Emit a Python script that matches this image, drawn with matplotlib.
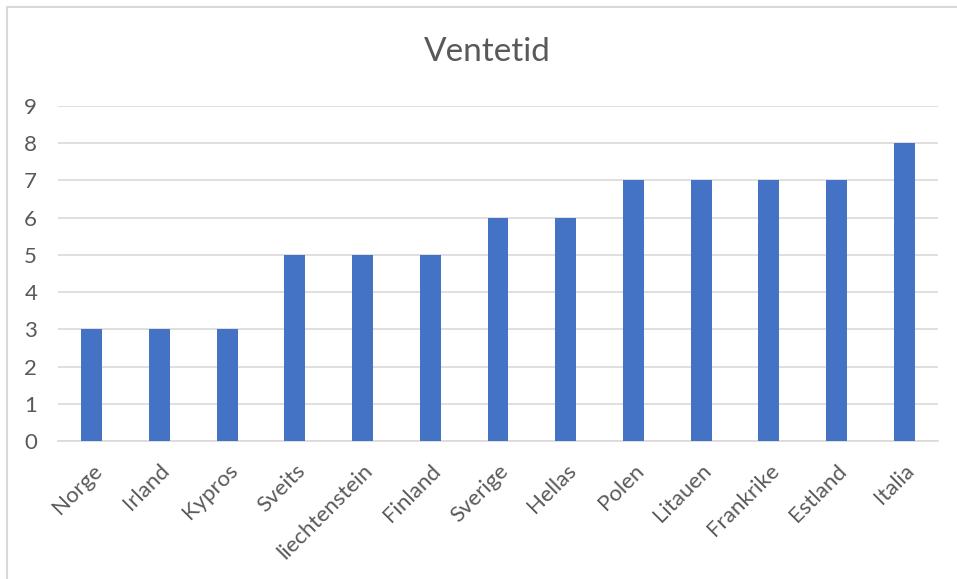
import matplotlib.pyplot as plt
from matplotlib.patches import Rectangle

countries = ['Norge', 'Irland', 'Kypros', 'Sveits', 'liechtenstein', 'Finland',
             'Sverige', 'Hellas', 'Polen', 'Litauen', 'Frankrike', 'Estland', 'Italia']
ventetid = [3, 3, 3, 5, 5, 5, 6, 6, 7, 7, 7, 7, 8]
y_ticks = list(range(0, 10))


def main():
    plt.rcParams['font.family'] = ['Lato', 'DejaVu Sans']
    fig = plt.figure(figsize=(9.57, 5.79), dpi=100)
    W, H = 957, 579

    # chart border (only top/left visible in the reference)
    fig.patches.append(Rectangle((7 / W, -0.1), 1.2, (H - 7) / H + 0.1,
                                 transform=fig.transFigure, fill=False,
                                 edgecolor='#d9d9d9', linewidth=1.5))

    ax = fig.add_axes([58 / W, 1 - 441 / H, (938 - 58) / W, (441 - 106) / H])
    x = range(len(countries))
    ax.bar(x, ventetid, width=0.31, color='#4472c4', zorder=3)

    ax.set_xlim(-0.5, len(countries) - 0.5)
    ax.set_ylim(0, 9)
    ax.set_yticks(y_ticks)
    ax.set_xticks(list(x))
    ax.set_xticklabels(countries, rotation=45, ha='right', rotation_mode='anchor')
    ax.tick_params(axis='both', length=0, labelsize=16, colors='#595959')
    ax.tick_params(axis='x', pad=14)
    ax.tick_params(axis='y', pad=15)
    for lbl in ax.get_xticklabels():
        lbl.set_x(lbl.get_position()[0])

    ax.grid(axis='y', color='#d9d9d9', linewidth=1.2, zorder=0)
    for s in ['top', 'right', 'left']:
        ax.spines[s].set_visible(False)
    ax.spines['bottom'].set_color('#d9d9d9')
    ax.spines['bottom'].set_linewidth(1.2)

    fig.text(487 / W, 1 - 52 / H, 'Ventetid', ha='center', va='center',
             fontsize=24, color='#595959')

    fig.savefig('out.png', dpi=100)


if __name__ == "__main__":
    main()
